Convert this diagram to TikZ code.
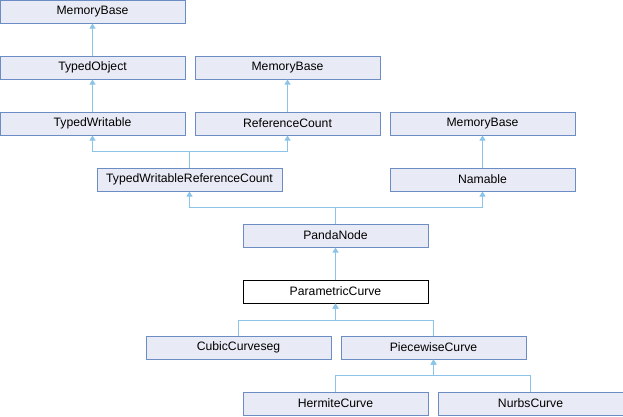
\documentclass[tikz,border=0pt]{standalone}
\usepackage{fontspec}
\setmainfont{Liberation Sans}
\usetikzlibrary{arrows.meta}
\definecolor{boxfill}{RGB}{232,235,245}
\definecolor{boxdraw}{RGB}{108,140,196}
\definecolor{edgecol}{RGB}{140,196,232}
\tikzset{
  cls/.style={draw=boxdraw, fill=boxfill, line width=1pt, minimum width=185pt, minimum height=23pt, inner sep=0pt, font=\fontsize{12.2}{14}\selectfont},
  cur/.style={cls, draw=black, fill=white},
  edge/.style={draw=edgecol, line width=1pt, -{Triangle[length=5pt,width=6pt]}}
}
\begin{document}
\begin{tikzpicture}[x=1pt,y=1pt]
\useasboundingbox (0,0) rectangle (623,-416);
\node[cls] (mb1) at (92.5,-11.5) {MemoryBase};
\node[cls] (to) at (92.5,-67.5) {TypedObject};
\node[cls] (mb2) at (287.5,-67.5) {MemoryBase};
\node[cls] (tw) at (92.5,-123.5) {TypedWritable};
\node[cls] (rc) at (287.5,-123.5) {ReferenceCount};
\node[cls] (mb3) at (482.5,-123.5) {MemoryBase};
\node[cls] (twrc) at (189.5,-179.5) {TypedWritableReferenceCount};
\node[cls] (nam) at (482.5,-179.5) {Namable};
\node[cls] (pn) at (335.5,-235.5) {PandaNode};
\node[cur] (pc) at (335.5,-291.5) {ParametricCurve};
\node[cls] (ccs) at (238.5,-347.5) {CubicCurveseg};
\node[cls] (pwc) at (433.5,-347.5) {PiecewiseCurve};
\node[cls] (hc) at (335.5,-403.5) {HermiteCurve};
\node[cls] (nc) at (530.5,-403.5) {NurbsCurve};
\draw[edge] (to.north) -- (mb1.south);
\draw[edge] (tw.north) -- (to.south);
\draw[edge] (rc.north) -- (mb2.south);
\draw[edge] (nam.north) -- (mb3.south);
\draw[edge] (twrc.north) -- ++(0,16) -| (tw.south);
\draw[edge] (twrc.north) -- ++(0,16) -| (rc.south);
\draw[edge] (pn.north) -- ++(0,16) -| (twrc.south);
\draw[edge] (pn.north) -- ++(0,16) -| (nam.south);
\draw[edge] (pc.north) -- (pn.south);
\draw[edge] (ccs.north) -- ++(0,15.5) -| (pc.south);
\draw[edge] (pwc.north) -- ++(0,15.5) -| (pc.south);
\draw[edge] (hc.north) -- ++(0,16) -| (pwc.south);
\draw[edge] (nc.north) -- ++(0,16) -| (pwc.south);
\end{tikzpicture}
\end{document}
